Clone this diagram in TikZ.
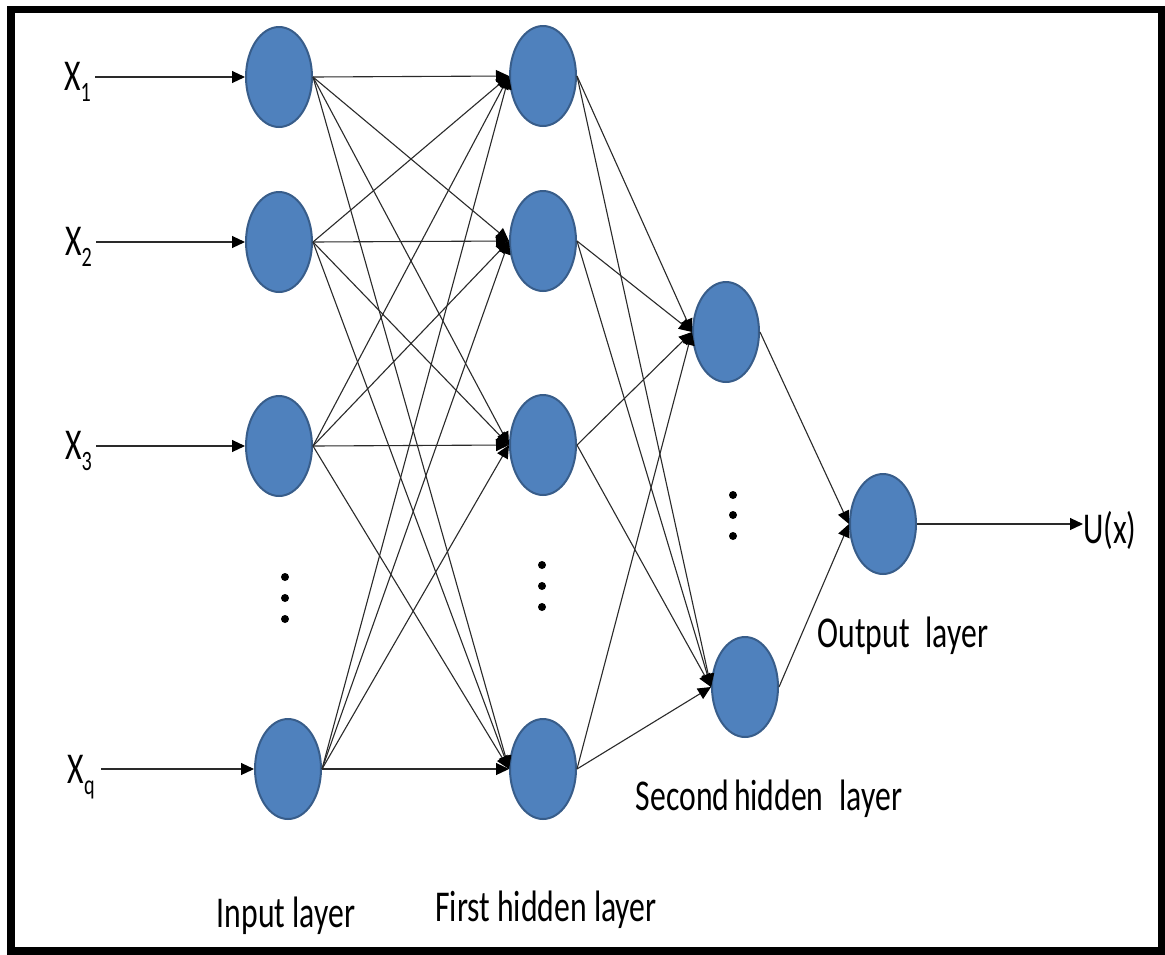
\documentclass[tikz,border=0pt]{standalone}
\usepackage{fontspec}
\setmainfont{Carlito}
\usepackage{graphicx}
\usetikzlibrary{shapes.geometric,arrows.meta}
\definecolor{nodefill}{HTML}{4F81BD}
\definecolor{nodeline}{HTML}{385D8A}
\definecolor{wire}{HTML}{2A2A2A}
\newcommand{\sq}[1]{\scalebox{0.72}[1]{#1}}
\newcommand{\xsub}[1]{\sq{X\raisebox{-11pt}{\fontsize{28}{28}\selectfont #1}}}
\begin{document}
\begin{tikzpicture}[x=1pt,y=-1pt,
  neuron/.style={ellipse,fill=nodefill,draw=nodeline,line width=2pt,minimum width=66pt,minimum height=100pt,inner sep=0pt},
  lbl/.style={font=\fontsize{44}{52}\selectfont,inner sep=0pt},
  xlbl/.style={lbl,anchor=base east,inner xsep=4pt},
  wirearrow/.style={draw=wire,line width=1.1pt,-{Triangle[length=13pt,width=12pt,color=black]}}]
\useasboundingbox (0,0) rectangle (1165,954);
\fill[white] (0,0) rectangle (1165,954);
\draw[line width=7.5pt] (11,9.5) rectangle (1162,951);

% neurons
\node[neuron] (I1) at (279,77) {};
\node[neuron] (I2) at (279,242) {};
\node[neuron] (I3) at (279,446) {};
\node[neuron] (I4) at (288,769) {};
\node[neuron] (H1) at (543,76) {};
\node[neuron] (H2) at (543,241) {};
\node[neuron] (H3) at (543,445) {};
\node[neuron] (H4) at (543,769) {};
\node[neuron] (S1) at (726,332) {};
\node[neuron] (S2) at (745,687) {};
\node[neuron] (O) at (883,524) {};

% input labels
\node[xlbl] (x1) at (95,90) {\xsub{1}};
\node[xlbl] (x2) at (96,255) {\xsub{2}};
\node[xlbl] (x3) at (96,459) {\xsub{3}};
\node[xlbl,inner xsep=6pt] (x4) at (101,783) {\xsub{q}};
\node[lbl,anchor=base west] (u) at (1083,543) {\sq{U(x)}};

% layer labels
\node[lbl,anchor=base] (lin) at (286,927) {\sq{Input layer}};
\node[lbl,anchor=base] (lh1) at (546,921) {\sq{First hidden layer}};
\node[lbl,anchor=base] (lh2) at (769,810) {\sq{Second\hspace{0.15em}hidden\hspace{0.5em}layer}};
\node[lbl,anchor=base] (lout) at (903,647) {\sq{Output\hspace{0.5em}layer}};

% dots
\foreach \y in {577,598,619} \fill (285,\y) circle (4pt);
\foreach \y in {565,586,607} \fill (542,\y) circle (4pt);
\foreach \y in {495,515,536} \fill (733,\y) circle (4pt);

% connectors
\foreach \i in {1,...,4}
  \draw[wirearrow] (x\i.east |- I\i.west) -- (I\i.west);
\foreach \i in {1,...,4}
  \foreach \j in {1,...,4}
    \draw[wirearrow] (I\i.east) -- (H\j.west);
\foreach \i in {1,...,4}
  \foreach \j in {1,2}
    \draw[wirearrow] (H\i.east) -- (S\j.west);
\foreach \j in {1,2}
  \draw[wirearrow] (S\j.east) -- (O.west);
\draw[wirearrow] (O.east) -- (O.east -| u.west);
\end{tikzpicture}
\end{document}
